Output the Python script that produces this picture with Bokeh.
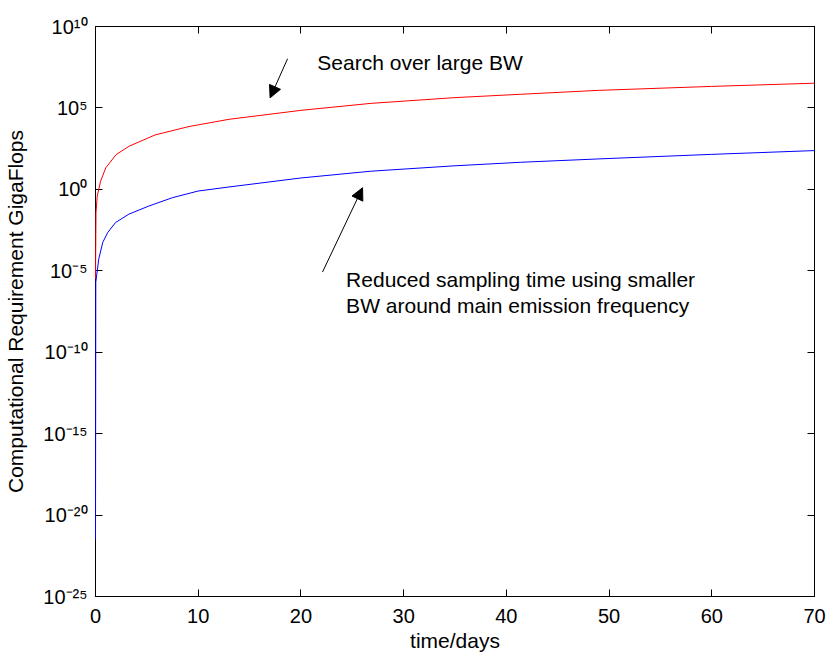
from bokeh.plotting import figure
from bokeh.models import (LinearAxis, LogAxis, FixedTicker, Label, Arrow,
                          NormalHead, Range1d, CustomJSTickFormatter)
from bokeh.embed import file_html
from bokeh.resources import INLINE

# ---- data ----
time_large_bw = [0, 0.05, 0.17, 0.5, 1.0, 2.0, 3.25, 5.8, 9.1, 13, 20, 26.8, 35, 41.4, 49, 60, 70]
gflops_large_bw = [3.2e-6, 0.038, 0.39, 3.2, 21, 135, 440, 2200, 7200, 2.0e4, 7.1e4,
                   1.9e5, 4.3e5, 6.9e5, 1.2e6, 2.1e6, 3.3e6]

time_small_bw = [0, 0.03, 0.32, 0.71, 1.2, 1.96, 3.25, 5.2, 7.5, 10, 13, 20, 26.8, 35, 41.4, 49, 60, 70]
gflops_small_bw = [3.2e-22, 2.0e-6, 5.4e-5, 5.6e-4, 2.3e-3, 9.3e-3, 0.030, 0.095, 0.31, 0.79,
                   1.4, 5.0, 13, 28, 46, 74, 141, 240]

x_ticks = [0, 10, 20, 30, 40, 50, 60, 70]
y_tick_exponents = [10, 5, 0, -5, -10, -15, -20, -25]

FONT = "Liberation Sans"

y_ticks = [10.0 ** e for e in y_tick_exponents]

p = figure(width=832, height=660, output_backend="svg", toolbar_location=None,
           x_range=Range1d(0, 70), y_range=Range1d(1e-25, 1e10),
           y_axis_type="log",
           min_border_left=95, min_border_right=18, min_border_top=26, min_border_bottom=64)

p.xgrid.visible = False
p.ygrid.visible = False
p.outline_line_color = "black"
p.background_fill_color = "white"
p.border_fill_color = "white"

empty = CustomJSTickFormatter(code="return ''")
pow10 = CustomJSTickFormatter(code="""
const sup = {'0':'\u2070','1':'\u00b9','2':'\u00b2','3':'\u00b3','4':'\u2074',
             '5':'\u2075','6':'\u2076','7':'\u2077','8':'\u2078','9':'\u2079','-':'\u207b'};
const e = String(Math.round(Math.log10(tick)));
let s = '';
for (const c of e) { s += sup[c]; }
return '10' + s;
""")

# bottom axis
xa = p.xaxis[0]
xa.ticker = FixedTicker(ticks=x_ticks, minor_ticks=[])
xa.major_tick_in = 7
xa.major_tick_out = 0
xa.minor_tick_line_color = None
xa.axis_line_color = "black"
xa.major_tick_line_color = "black"
xa.major_label_text_font = FONT
xa.major_label_text_font_size = "20px"
xa.major_label_text_color = "black"
xa.major_label_standoff = 12
xa.axis_label = "time/days"
xa.axis_label_text_font = FONT
xa.axis_label_text_font_size = "21px"
xa.axis_label_text_font_style = "normal"
xa.axis_label_text_color = "black"
xa.axis_label_standoff = 3

# left axis
ya = p.yaxis[0]
ya.ticker = FixedTicker(ticks=y_ticks, minor_ticks=[])
ya.formatter = pow10
ya.major_tick_in = 7
ya.major_tick_out = 0
ya.minor_tick_line_color = None
ya.axis_line_color = "black"
ya.major_tick_line_color = "black"
ya.major_label_text_font = FONT
ya.major_label_text_font_size = "20px"
ya.major_label_text_color = "black"
ya.major_label_standoff = 8
ya.axis_label = "Computational Requirement GigaFlops"
ya.axis_label_text_font = FONT
ya.axis_label_text_font_size = "21px"
ya.axis_label_text_font_style = "normal"
ya.axis_label_text_color = "black"
ya.axis_label_standoff = 13

# top and right axes (box)
top = LinearAxis(ticker=FixedTicker(ticks=x_ticks, minor_ticks=[]), formatter=empty,
                 major_tick_in=7, major_tick_out=0, minor_tick_line_color=None,
                 axis_line_color="black", major_tick_line_color="black")
p.add_layout(top, "above")
right = LogAxis(ticker=FixedTicker(ticks=y_ticks, minor_ticks=[]), formatter=empty,
                major_tick_in=7, major_tick_out=0, minor_tick_line_color=None,
                axis_line_color="black", major_tick_line_color="black")
p.add_layout(right, "right")

# curves (drawn above the axis lines, as in the reference)
p.line(time_large_bw, gflops_large_bw, line_color="#ff0000", line_width=1, level="overlay")
p.line(time_small_bw, gflops_small_bw, line_color="#0000ff", line_width=1, level="overlay")

# annotations
p.add_layout(Label(x=21.6, y=10 ** 7.79, text="Search over large BW", text_align="left",
                   text_baseline="middle", text_font=FONT, text_font_size="21px",
                   text_color="black"))
p.add_layout(Label(x=24.4, y=10 ** -5.53, text="Reduced sampling time using smaller",
                   text_align="left", text_baseline="middle", text_font=FONT,
                   text_font_size="21px", text_color="black"))
p.add_layout(Label(x=24.4, y=10 ** -7.13, text="BW around main emission frequency",
                   text_align="left", text_baseline="middle", text_font=FONT,
                   text_font_size="21px", text_color="black"))

p.add_layout(Arrow(end=NormalHead(size=12, fill_color="black", line_color="black"),
                   x_start=18.7, y_start=10 ** 8.02, x_end=17.0, y_end=10 ** 5.62,
                   line_color="black", line_width=1))
p.add_layout(Arrow(end=NormalHead(size=12, fill_color="black", line_color="black"),
                   x_start=22.1, y_start=10 ** -5.08, x_end=26.0, y_end=10 ** 0.10,
                   line_color="black", line_width=1))

open("out.html", "w").write(file_html(p, INLINE))
